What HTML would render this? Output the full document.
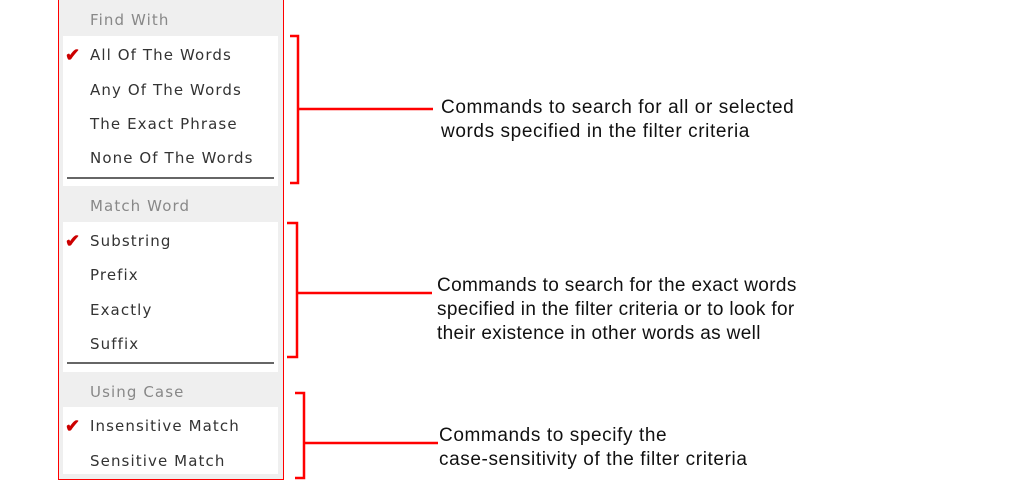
<!DOCTYPE html>
<html><head><style>
body{margin:0;width:1013px;height:486px;background:#fff;position:relative;overflow:hidden;font-family:"Liberation Sans",sans-serif}
.menu{position:absolute;left:58px;top:-2px;width:226px;height:482px;border-left:1.5px solid #f00;border-right:1.5px solid #f00;border-bottom:1.5px solid #f00;background:#efefef;box-sizing:border-box}
.w{position:absolute;left:4px;width:215px;background:#fff}
.t{position:absolute;left:31px;color:#333;letter-spacing:1.1px;font-family:"DejaVu Sans",sans-serif;font-size:15px}
.h{color:#888}
.ck{position:absolute;left:6px;color:#c00;font-size:18px;font-weight:bold;line-height:18px}
.sep{position:absolute;left:8px;width:207px;height:2px;background:#666}
.l{position:absolute;font-size:19px;letter-spacing:0.6px;color:#111;line-height:24px;left:441px}
svg{position:absolute;left:0;top:0}
</style></head><body>
<div class="menu">
<div class="w" style="top:38px;height:150px"></div>
<div class="w" style="top:224px;height:150px"></div>
<div class="w" style="top:409px;height:67px"></div>
<div class="t h" style="top:13px">Find With</div>
<div class="ck" style="top:48px">✔</div>
<div class="t" style="top:48px">All Of The Words</div>
<div class="t" style="top:83px">Any Of The Words</div>
<div class="t" style="top:117px">The Exact Phrase</div>
<div class="t" style="top:151px">None Of The Words</div>
<div class="sep" style="top:179px"></div>
<div class="t h" style="top:199px">Match Word</div>
<div class="ck" style="top:234px">✔</div>
<div class="t" style="top:234px">Substring</div>
<div class="t" style="top:268px">Prefix</div>
<div class="t" style="top:303px">Exactly</div>
<div class="t" style="top:337px">Suffix</div>
<div class="sep" style="top:364px"></div>
<div class="t h" style="top:385px">Using Case</div>
<div class="ck" style="top:419px">✔</div>
<div class="t" style="top:419px">Insensitive Match</div>
<div class="t" style="top:454px">Sensitive Match</div>
</div>
<svg width="1013" height="486" fill="none" stroke="#f00" stroke-width="2.5">
<path d="M290 36H298V183H290M298 109H433"/>
<path d="M287 223H297V357H287M297 293H432"/>
<path d="M295 393H304V478H295M304 443H438"/>
</svg>
<div class="l" style="top:96px">Commands to search for all or selected<br>words specified in the filter criteria</div>
<div class="l" style="top:274px;left:437px;letter-spacing:0.35px">Commands to search for the exact words<br>specified in the filter criteria or to look for<br>their existence in other words as well</div>
<div class="l" style="top:424px;left:439px">Commands to specify the<br>case-sensitivity of the filter criteria</div>
</body></html>
